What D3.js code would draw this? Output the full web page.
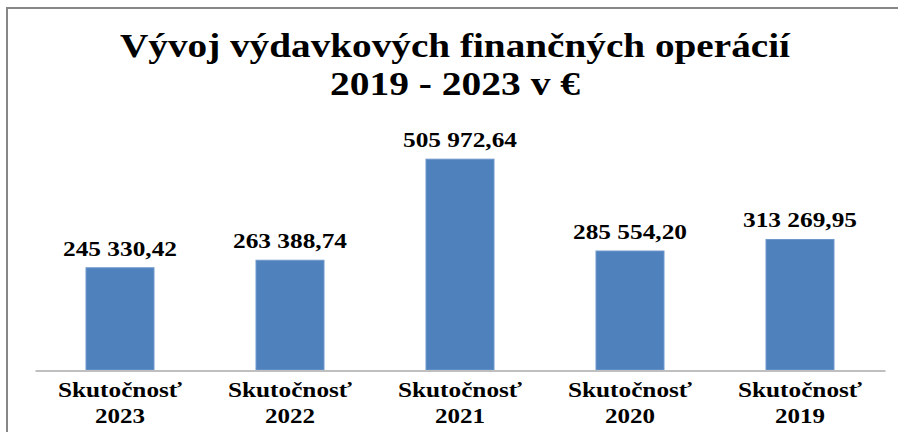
<!DOCTYPE html>
<html>
<head>
<meta charset="utf-8">
<script src="https://cdn.jsdelivr.net/npm/d3@7"></script>
<style>
  html, body { margin: 0; padding: 0; background: #fff; }
  svg { display: block; }
  text { font-family: "Liberation Serif", "Times New Roman", serif; font-weight: bold; fill: #000; }
</style>
</head>
<body>
<svg id="chart" width="898" height="432"></svg>
<script>
const titleLines = ["Vývoj výdavkových finančných operácií", "2019 - 2023 v €"];
const categories = ["Skutočnosť 2023", "Skutočnosť 2022", "Skutočnosť 2021", "Skutočnosť 2020", "Skutočnosť 2019"];
const categoryLine1 = ["Skutočnosť", "Skutočnosť", "Skutočnosť", "Skutočnosť", "Skutočnosť"];
const categoryLine2 = ["2023", "2022", "2021", "2020", "2019"];
const values = [245330.42, 263388.74, 505972.64, 285554.20, 313269.95];
const valueLabels = ["245 330,42", "263 388,74", "505 972,64", "285 554,20", "313 269,95"];

const svg = d3.select("#chart");

// outer chart border (clipped at right/bottom like the reference)
svg.append("rect")
  .attr("x", 7).attr("y", 8).attr("width", 900).attr("height", 440)
  .attr("fill", "none").attr("stroke", "#878787").attr("stroke-width", 2);

// title
const titleY = [56.5, 94.5];
const titleW = [670, 250];
titleLines.forEach((t, i) => {
  svg.append("text")
    .attr("x", 455).attr("y", titleY[i])
    .attr("text-anchor", "middle")
    .attr("font-size", 34)
    .attr("textLength", titleW[i])
    .attr("lengthAdjust", "spacingAndGlyphs")
    .text(t);
});

const x = d3.scaleBand().domain(categories).range([35, 885]).paddingInner(0.6).paddingOuter(0.3);
const y = d3.scaleLinear().domain([0, 600000]).range([370, 120]);

// bars
svg.append("g").selectAll("rect").data(values).join("rect")
  .attr("x", (d, i) => x(categories[i]))
  .attr("y", d => y(d))
  .attr("width", x.bandwidth())
  .attr("height", d => y(0) - y(d))
  .attr("fill", "#4F81BD")
  .attr("stroke", "#6E97CB")
  .attr("stroke-width", 1);

// axis line
const axis = svg.append("g").attr("transform", `translate(0,${y(0) + 0.5})`)
  .call(d3.axisBottom(x).tickSize(0).tickFormat(""));
axis.select(".domain").attr("stroke", "#BFBFBF").attr("stroke-width", 2);

// value labels
svg.append("g").selectAll("text").data(values).join("text")
  .attr("x", (d, i) => x(categories[i]) + x.bandwidth() / 2)
  .attr("y", d => y(d) - 12)
  .attr("text-anchor", "middle")
  .attr("font-size", 20)
  .attr("textLength", 114)
  .attr("lengthAdjust", "spacingAndGlyphs")
  .text((d, i) => valueLabels[i]);

// category labels
const cat = svg.append("g").selectAll("g").data(categories).join("g")
  .attr("transform", d => `translate(${x(d) + x.bandwidth() / 2},0)`);
cat.append("text")
  .attr("y", 397).attr("text-anchor", "middle").attr("font-size", 20)
  .attr("textLength", 124).attr("lengthAdjust", "spacingAndGlyphs")
  .text((d, i) => categoryLine1[i]);
cat.append("text")
  .attr("y", 423).attr("text-anchor", "middle").attr("font-size", 20)
  .attr("textLength", 50).attr("lengthAdjust", "spacingAndGlyphs")
  .text((d, i) => categoryLine2[i]);
</script>
</body>
</html>
